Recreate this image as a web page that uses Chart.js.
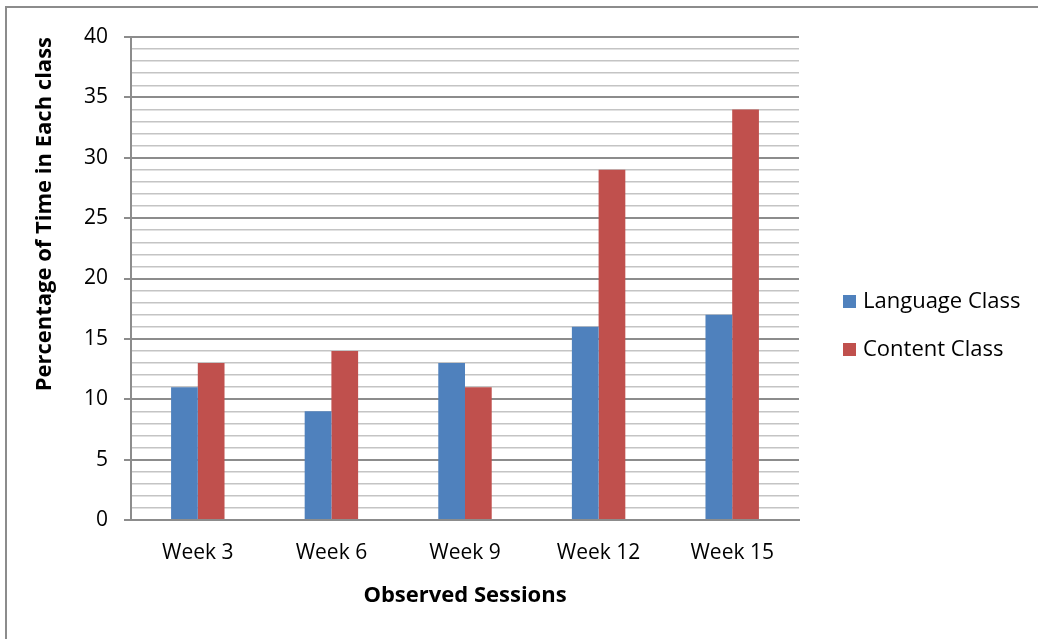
<!DOCTYPE html>
<html>
<head>
<meta charset="utf-8">
<script src="https://cdn.jsdelivr.net/npm/chart.js@4"></script>
<style>
  html, body { margin: 0; padding: 0; background: #fff; overflow: hidden; }
  #frame {
    position: absolute; left: 5px; top: 6px; width: 1031px; height: 700px;
    border-top: 2px solid #8c8c8c; border-left: 2px solid #8c8c8c;
  }
  #chart { position: absolute; left: 0; top: 0; }
</style>
</head>
<body>
<div id="frame"></div>
<canvas id="chart" width="1045" height="639"></canvas>
<script>
const sessions = ["Week 3", "Week 6", "Week 9", "Week 12", "Week 15"];
const languageClass = [11, 9, 13, 16, 17];
const contentClass = [13, 14, 11, 29, 34];
const yMax = 40;

const FONT = "'Open Sans', 'Noto Sans', sans-serif";

// legend drawn at Excel-like spot on the right
const sideLegend = {
    id: "sideLegend",
    afterDraw(chart) {
        const ctx = chart.ctx;
        ctx.save();
        ctx.font = "22px " + FONT;
        ctx.textBaseline = "middle";
        chart.data.datasets.forEach(function (ds, i) {
            const y = 302 + i * 48;
            ctx.fillStyle = ds.backgroundColor;
            ctx.fillRect(843, y - 7, 13, 13);
            ctx.fillStyle = "#000";
            ctx.fillText(ds.label, 863, y);
        });
        ctx.restore();
    },
};

const data = {
    labels: sessions,
    datasets: [
        {
            label: "Language Class",
            data: languageClass,
            backgroundColor: "#4F81BD",
        },
        {
            label: "Content Class",
            data: contentClass,
            backgroundColor: "#C0504D",
        },
    ],
};

const config = {
    type: "bar",
    data: data,
    options: {
        responsive: false,
        animation: false,
        categoryPercentage: 0.4,
        barPercentage: 1.0,
        layout: { padding: { left: 0, right: 246, top: 37, bottom: 0 } },
        plugins: {
            legend: { display: false },
            tooltip: { enabled: false },
        },
        scales: {
            x: {
                afterFit: function (scale) { scale.height = 119; },
                grid: { display: false, drawTicks: false },
                border: { color: "#8c8c8c", width: 2 },
                ticks: {
                    color: "#000",
                    font: { family: FONT, size: 21 },
                    padding: 20,
                },
                title: {
                    display: true,
                    text: "Observed Sessions",
                    color: "#000",
                    font: { family: FONT, size: 22, weight: "bold" },
                    padding: { top: 0, bottom: 30 },
                },
            },
            y: {
                min: 0,
                max: yMax,
                afterFit: function (scale) { scale.width = 131; },
                border: { color: "#8c8c8c", width: 2 },
                grid: {
                    color: function (c) { return c.tick && c.tick.value % 5 === 0 ? "#8c8c8c" : "#c4c4c4"; },
                    lineWidth: function (c) { return c.tick && c.tick.value % 5 === 0 ? 2 : 1.5; },
                    tickColor: function (c) { return c.tick && c.tick.value % 5 === 0 ? "#8c8c8c" : "rgba(0,0,0,0)"; },
                    tickLength: 7,
                },
                ticks: {
                    stepSize: 1,
                    autoSkip: false,
                    color: "#000",
                    font: { family: FONT, size: 21 },
                    padding: 16,
                    callback: function (v) { return v % 5 === 0 ? v : ""; },
                },
                title: {
                    display: true,
                    text: "Percentage of Time in Each class",
                    align: "end",
                    color: "#000",
                    font: { family: FONT, size: 22, weight: "bold" },
                    padding: { top: 32, bottom: 0 },
                },
            },
        },
    },
    plugins: [sideLegend],
};

new Chart(document.getElementById("chart"), config);
</script>
</body>
</html>
